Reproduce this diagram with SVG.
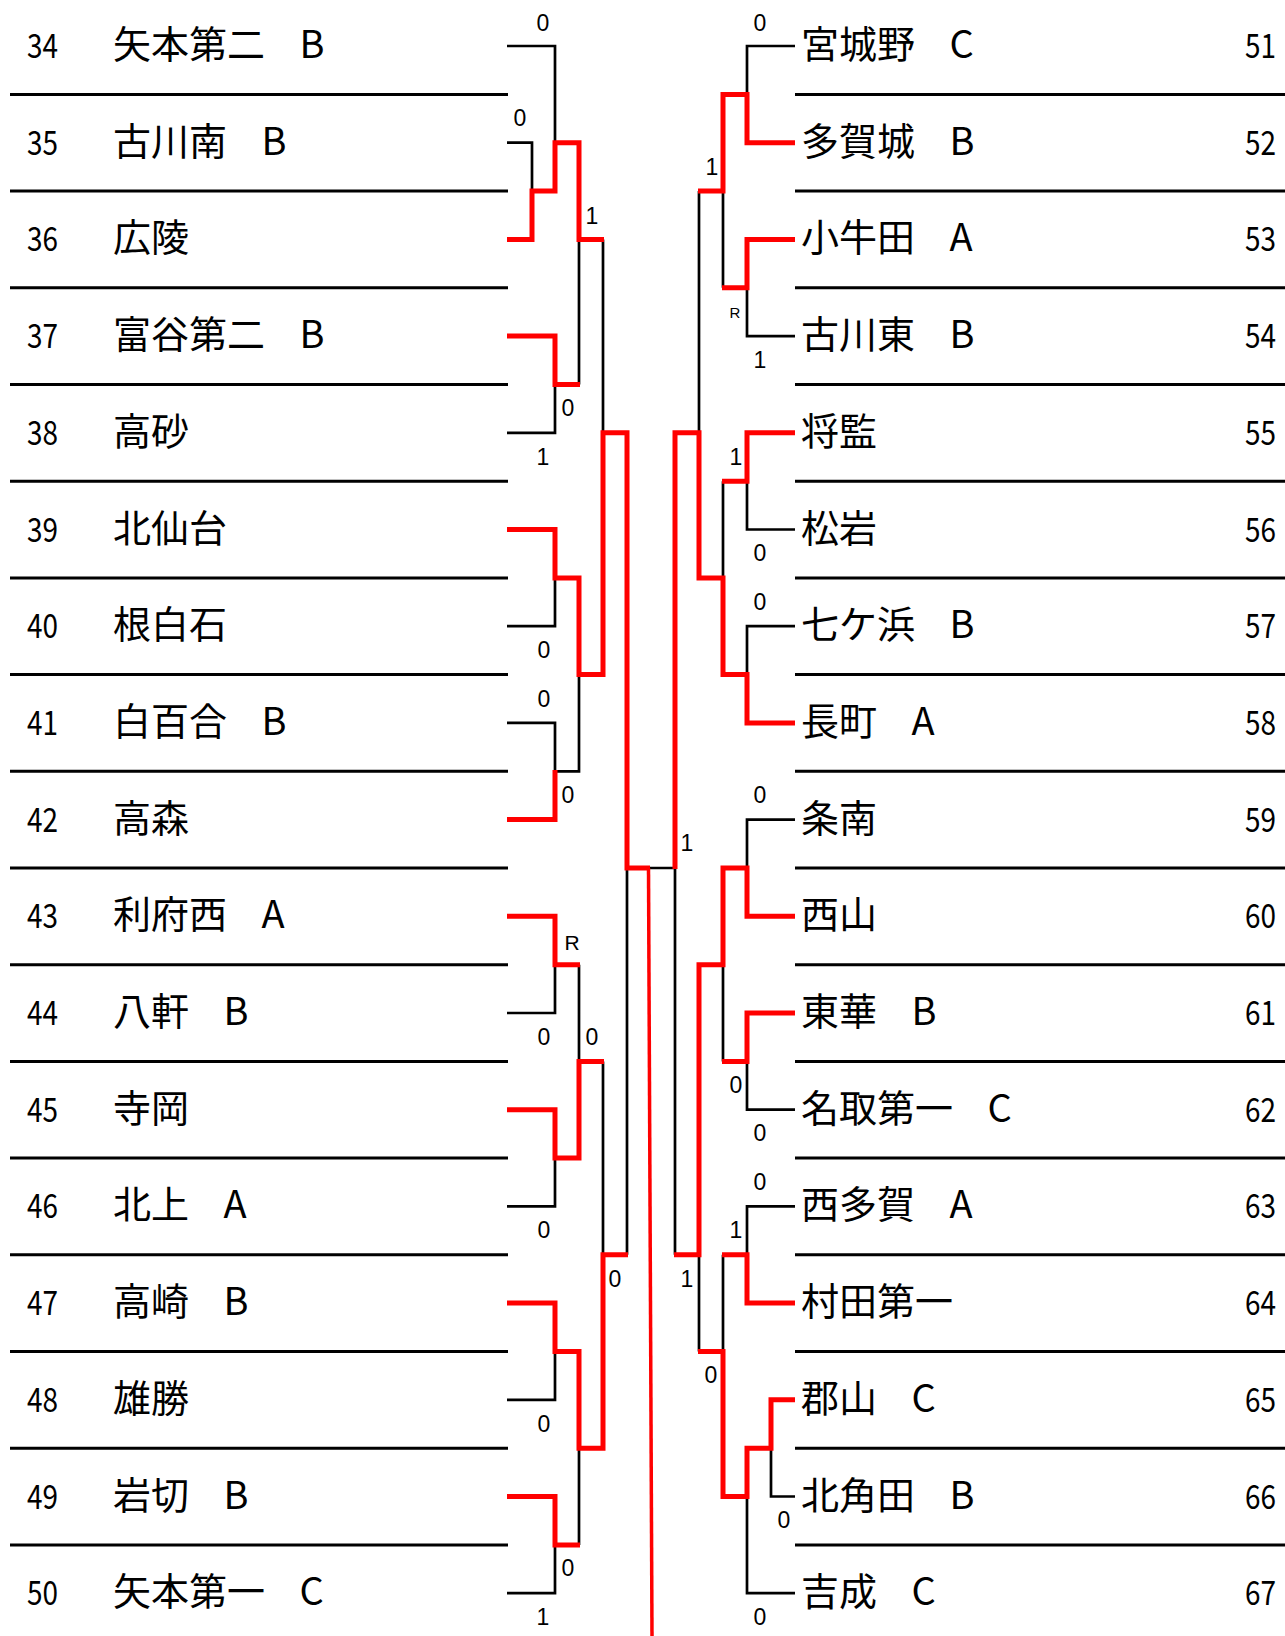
<svg xmlns="http://www.w3.org/2000/svg" width="1285" height="1636" viewBox="0 0 1285 1636">
<style>
.sep{stroke:#000;stroke-width:3;fill:none}
.bk{stroke:#000;stroke-width:2.7;fill:none}
.rd{stroke:#f00;stroke-width:5;fill:none;stroke-linejoin:miter}
.thin{stroke:#f00;stroke-width:3.5;fill:none}
.num{font-family:"Noto Sans CJK JP",sans-serif;font-size:34px;fill:#000}
.nm{font-family:"Noto Sans CJK JP",sans-serif;font-size:38px;fill:#000}
.sp{font-size:34.5px}
.lb{font-family:"Liberation Sans",Arial,sans-serif;font-size:23px;text-anchor:middle;fill:#000}
.lbs{font-family:"Liberation Sans",Arial,sans-serif;font-size:15px;text-anchor:middle;fill:#000}
</style>
<rect width="1285" height="1636" fill="#fff"/>
<g id="rules">
<path class="sep" d="M10 94.4H508M10 191.1H508M10 287.8H508M10 384.5H508M10 481.2H508M10 577.9H508M10 674.6H508M10 771.3H508M10 868H508M10 964.7H508M10 1061.4H508M10 1158.1H508M10 1254.8H508M10 1351.5H508M10 1448.2H508M10 1544.9H508"/>
<path class="sep" d="M795 94.4H1285M795 191.1H1285M795 287.8H1285M795 384.5H1285M795 481.2H1285M795 577.9H1285M795 674.6H1285M795 771.3H1285M795 868H1285M795 964.7H1285M795 1061.4H1285M795 1158.1H1285M795 1254.8H1285M795 1351.5H1285M795 1448.2H1285M795 1544.9H1285"/>
</g>
<g id="teams-left">
<g id="t34"><text class="num" x="27" y="58" textLength="31" lengthAdjust="spacingAndGlyphs">34</text><text class="nm" x="113" y="58">矢本第二<tspan class="sp">　</tspan>B</text></g>
<g id="t35"><text class="num" x="27" y="154.7" textLength="31" lengthAdjust="spacingAndGlyphs">35</text><text class="nm" x="113" y="154.7">古川南<tspan class="sp">　</tspan>B</text></g>
<g id="t36"><text class="num" x="27" y="251.4" textLength="31" lengthAdjust="spacingAndGlyphs">36</text><text class="nm" x="113" y="251.4">広陵</text></g>
<g id="t37"><text class="num" x="27" y="348.1" textLength="31" lengthAdjust="spacingAndGlyphs">37</text><text class="nm" x="113" y="348.1">富谷第二<tspan class="sp">　</tspan>B</text></g>
<g id="t38"><text class="num" x="27" y="444.8" textLength="31" lengthAdjust="spacingAndGlyphs">38</text><text class="nm" x="113" y="444.8">高砂</text></g>
<g id="t39"><text class="num" x="27" y="541.5" textLength="31" lengthAdjust="spacingAndGlyphs">39</text><text class="nm" x="113" y="541.5">北仙台</text></g>
<g id="t40"><text class="num" x="27" y="638.2" textLength="31" lengthAdjust="spacingAndGlyphs">40</text><text class="nm" x="113" y="638.2">根白石</text></g>
<g id="t41"><text class="num" x="27" y="734.9" textLength="31" lengthAdjust="spacingAndGlyphs">41</text><text class="nm" x="113" y="734.9">白百合<tspan class="sp">　</tspan>B</text></g>
<g id="t42"><text class="num" x="27" y="831.6" textLength="31" lengthAdjust="spacingAndGlyphs">42</text><text class="nm" x="113" y="831.6">高森</text></g>
<g id="t43"><text class="num" x="27" y="928.3" textLength="31" lengthAdjust="spacingAndGlyphs">43</text><text class="nm" x="113" y="928.3">利府西<tspan class="sp">　</tspan>A</text></g>
<g id="t44"><text class="num" x="27" y="1025" textLength="31" lengthAdjust="spacingAndGlyphs">44</text><text class="nm" x="113" y="1025">八軒<tspan class="sp">　</tspan>B</text></g>
<g id="t45"><text class="num" x="27" y="1121.7" textLength="31" lengthAdjust="spacingAndGlyphs">45</text><text class="nm" x="113" y="1121.7">寺岡</text></g>
<g id="t46"><text class="num" x="27" y="1218.4" textLength="31" lengthAdjust="spacingAndGlyphs">46</text><text class="nm" x="113" y="1218.4">北上<tspan class="sp">　</tspan>A</text></g>
<g id="t47"><text class="num" x="27" y="1315.1" textLength="31" lengthAdjust="spacingAndGlyphs">47</text><text class="nm" x="113" y="1315.1">高崎<tspan class="sp">　</tspan>B</text></g>
<g id="t48"><text class="num" x="27" y="1411.8" textLength="31" lengthAdjust="spacingAndGlyphs">48</text><text class="nm" x="113" y="1411.8">雄勝</text></g>
<g id="t49"><text class="num" x="27" y="1508.5" textLength="31" lengthAdjust="spacingAndGlyphs">49</text><text class="nm" x="113" y="1508.5">岩切<tspan class="sp">　</tspan>B</text></g>
<g id="t50"><text class="num" x="27" y="1605.2" textLength="31" lengthAdjust="spacingAndGlyphs">50</text><text class="nm" x="113" y="1605.2">矢本第一<tspan class="sp">　</tspan>C</text></g>
</g>
<g id="teams-right">
<g id="t51"><text class="nm" x="801" y="58">宮城野<tspan class="sp">　</tspan>C</text><text class="num" x="1245" y="58" textLength="31" lengthAdjust="spacingAndGlyphs">51</text></g>
<g id="t52"><text class="nm" x="801" y="154.7">多賀城<tspan class="sp">　</tspan>B</text><text class="num" x="1245" y="154.7" textLength="31" lengthAdjust="spacingAndGlyphs">52</text></g>
<g id="t53"><text class="nm" x="801" y="251.4">小牛田<tspan class="sp">　</tspan>A</text><text class="num" x="1245" y="251.4" textLength="31" lengthAdjust="spacingAndGlyphs">53</text></g>
<g id="t54"><text class="nm" x="801" y="348.1">古川東<tspan class="sp">　</tspan>B</text><text class="num" x="1245" y="348.1" textLength="31" lengthAdjust="spacingAndGlyphs">54</text></g>
<g id="t55"><text class="nm" x="801" y="444.8">将監</text><text class="num" x="1245" y="444.8" textLength="31" lengthAdjust="spacingAndGlyphs">55</text></g>
<g id="t56"><text class="nm" x="801" y="541.5">松岩</text><text class="num" x="1245" y="541.5" textLength="31" lengthAdjust="spacingAndGlyphs">56</text></g>
<g id="t57"><text class="nm" x="801" y="638.2">七ケ浜<tspan class="sp">　</tspan>B</text><text class="num" x="1245" y="638.2" textLength="31" lengthAdjust="spacingAndGlyphs">57</text></g>
<g id="t58"><text class="nm" x="801" y="734.9">長町<tspan class="sp">　</tspan>A</text><text class="num" x="1245" y="734.9" textLength="31" lengthAdjust="spacingAndGlyphs">58</text></g>
<g id="t59"><text class="nm" x="801" y="831.6">条南</text><text class="num" x="1245" y="831.6" textLength="31" lengthAdjust="spacingAndGlyphs">59</text></g>
<g id="t60"><text class="nm" x="801" y="928.3">西山</text><text class="num" x="1245" y="928.3" textLength="31" lengthAdjust="spacingAndGlyphs">60</text></g>
<g id="t61"><text class="nm" x="801" y="1025">東華<tspan class="sp">　</tspan>B</text><text class="num" x="1245" y="1025" textLength="31" lengthAdjust="spacingAndGlyphs">61</text></g>
<g id="t62"><text class="nm" x="801" y="1121.7">名取第一<tspan class="sp">　</tspan>C</text><text class="num" x="1245" y="1121.7" textLength="31" lengthAdjust="spacingAndGlyphs">62</text></g>
<g id="t63"><text class="nm" x="801" y="1218.4">西多賀<tspan class="sp">　</tspan>A</text><text class="num" x="1245" y="1218.4" textLength="31" lengthAdjust="spacingAndGlyphs">63</text></g>
<g id="t64"><text class="nm" x="801" y="1315.1">村田第一</text><text class="num" x="1245" y="1315.1" textLength="31" lengthAdjust="spacingAndGlyphs">64</text></g>
<g id="t65"><text class="nm" x="801" y="1411.8">郡山<tspan class="sp">　</tspan>C</text><text class="num" x="1245" y="1411.8" textLength="31" lengthAdjust="spacingAndGlyphs">65</text></g>
<g id="t66"><text class="nm" x="801" y="1508.5">北角田<tspan class="sp">　</tspan>B</text><text class="num" x="1245" y="1508.5" textLength="31" lengthAdjust="spacingAndGlyphs">66</text></g>
<g id="t67"><text class="nm" x="801" y="1605.2">吉成<tspan class="sp">　</tspan>C</text><text class="num" x="1245" y="1605.2" textLength="31" lengthAdjust="spacingAndGlyphs">67</text></g>
</g>
<g id="connectors">
<path class="bk" d="M507 46H555V142.7M507 142.7H532V191.1M579 239.4V384.5M603 239.4V432.8M507 432.8H555V384.5M507 626.2H555V577.9M507 722.9H555V771.3H579V674.6M627 868V1254.8M649 868H675M507 1013H555V964.7M579 964.7V1061.4M603 1061.4V1254.8M507 1206.4H555V1158.1M507 1399.8H555V1351.5M579 1448.2V1544.9M507 1593.2H555V1544.9"/>
<path class="bk" d="M795 46H747V94.4M723 191.1V287.8M699 191.1V432.8M795 336.1H747V287.8M795 529.5H747V481.2M723 481.2V577.9M795 626.2H747V674.6M675 868V1254.8M795 819.6H747V868M723 964.7V1061.4M795 1109.7H747V1061.4M795 1206.4H747V1254.8M723 1254.8V1351.5M699 1254.8V1351.5M795 1496.5H771V1448.2M795 1593.2H747V1496.5"/>
<path class="rd" d="M507 239.4H532V191.1H555V142.7H579V239.4H604"/>
<path class="rd" d="M507 336.1H555V384.5H580"/>
<path class="rd" d="M507 529.5H555V577.9H579V674.6H603V432.8H627V868H650"/>
<path class="rd" d="M507 819.6H555V770"/>
<path class="rd" d="M507 916.3H555V964.7H580"/>
<path class="rd" d="M507 1109.7H555V1158.1H579V1061.4H604"/>
<path class="rd" d="M507 1303.1H555V1351.5H579V1448.2H603V1254.8H628"/>
<path class="rd" d="M507 1496.5H555V1544.9H580"/>
<path class="rd" d="M795 142.7H747V94.4H723V191.1H698"/>
<path class="rd" d="M795 239.4H747V287.8H722"/>
<path class="rd" d="M795 432.8H747V481.2H722"/>
<path class="rd" d="M795 722.9H747V674.6H723V577.9H699V432.8H675V869"/>
<path class="rd" d="M795 916.3H747V868H723V964.7H699V1254.8H674"/>
<path class="rd" d="M795 1013H747V1061.4H722"/>
<path class="rd" d="M795 1303.1H747V1254.8H722"/>
<path class="rd" d="M795 1399.8H771V1448.2H747V1496.5H723V1351.5H698"/>
<path class="thin" d="M648.5 868L652 1636"/>
</g>
<g id="scores">
<text class="lb" x="543" y="31">0</text>
<text class="lb" x="520" y="126">0</text>
<text class="lb" x="592" y="224">1</text>
<text class="lb" x="568" y="416">0</text>
<text class="lb" x="543" y="465">1</text>
<text class="lb" x="544" y="658">0</text>
<text class="lb" x="544" y="707">0</text>
<text class="lb" x="568" y="803">0</text>
<text class="lb" x="572" y="950" style="font-size:21px">R</text>
<text class="lb" x="544" y="1045">0</text>
<text class="lb" x="592" y="1045">0</text>
<text class="lb" x="544" y="1238">0</text>
<text class="lb" x="615" y="1287">0</text>
<text class="lb" x="544" y="1432">0</text>
<text class="lb" x="568" y="1576">0</text>
<text class="lb" x="543" y="1625">1</text>
<text class="lb" x="760" y="31">0</text>
<text class="lb" x="712" y="175">1</text>
<text class="lbs" x="735" y="318">R</text>
<text class="lb" x="760" y="368">1</text>
<text class="lb" x="736" y="465">1</text>
<text class="lb" x="760" y="561">0</text>
<text class="lb" x="760" y="610">0</text>
<text class="lb" x="687" y="851">1</text>
<text class="lb" x="760" y="803">0</text>
<text class="lb" x="736" y="1093">0</text>
<text class="lb" x="760" y="1141">0</text>
<text class="lb" x="760" y="1190">0</text>
<text class="lb" x="736" y="1238">1</text>
<text class="lb" x="687" y="1287">1</text>
<text class="lb" x="711" y="1383">0</text>
<text class="lb" x="784" y="1528">0</text>
<text class="lb" x="760" y="1625">0</text>
</g>
</svg>
